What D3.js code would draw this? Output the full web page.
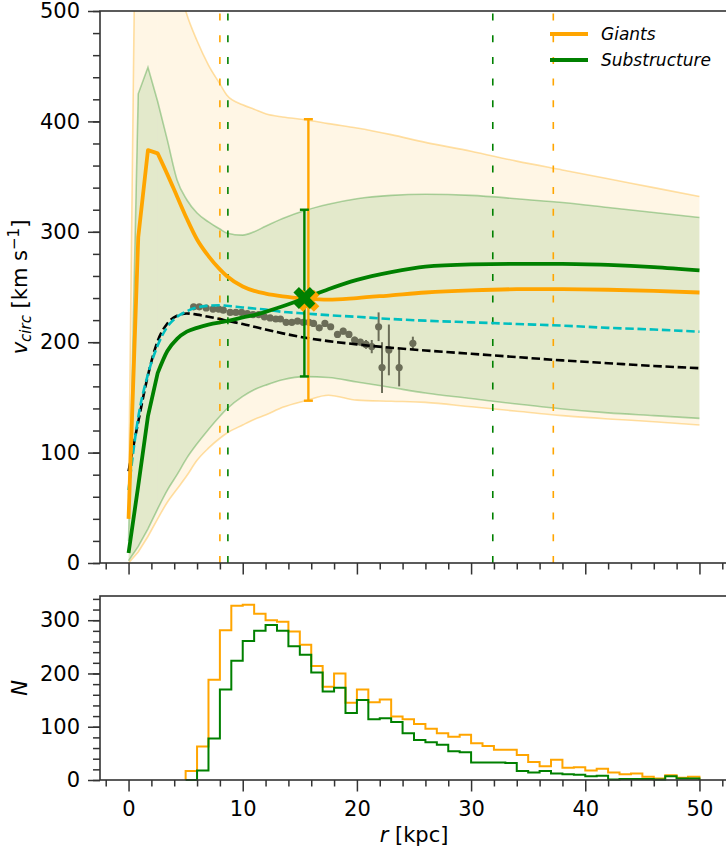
<!DOCTYPE html>
<html>
<head>
<meta charset="utf-8">
<script src="https://cdn.jsdelivr.net/npm/d3@7"></script>
<style>
  body { margin: 0; background: #fff; }
  svg text { font-family: "DejaVu Sans", sans-serif; }
</style>
</head>
<body>
<div id="chart"></div>
<script>
// radial grid (kpc) shared by the model curves
var radius = [0, 0.85, 1.7, 2.55, 3.4, 4.25, 5.1, 6, 7, 8, 8.6, 10, 11, 12, 13.5, 15.5, 17.5, 20, 23, 26, 30, 34, 38, 42, 46, 50];

var giantsUpper = [60, 820, 720, 640, 580, 530, 497, 473, 451, 434, 424, 415, 411, 407, 404, 401.5, 398, 394, 388, 381, 373, 364, 356, 348, 340, 332];
var giantsLower = [0, 10, 24, 40, 55, 67, 79, 93, 104, 113, 117.5, 125, 130, 134, 141, 147, 152, 147.5, 146.5, 145.5, 141.5, 137.5, 133.5, 130.5, 128, 125];
var giantsVc = [40, 295, 374, 371, 352, 332, 312, 293, 278, 266, 260, 250.5, 246.5, 244, 241.5, 239.5, 238.5, 240, 242.5, 245, 247, 248, 248, 247.5, 246.5, 245];

var subUpper = [20, 425, 449, 418, 383, 347, 329, 317, 309, 302.5, 299, 297, 300, 305, 312, 319.5, 325, 330, 333, 334, 333, 330, 326.5, 322, 317.5, 313];
var subLower = [2, 15, 31, 49, 66, 80, 95, 108, 121, 133, 139.5, 151, 157, 161, 166, 168.8, 168, 164, 159, 154, 149, 144, 139.5, 136, 133.5, 131];
var subVc = [9, 70, 133, 172, 192, 203, 209.5, 213, 216, 218, 219, 222.5, 224.5, 227.5, 232.5, 240, 248, 256.5, 263.5, 268.5, 270.5, 271, 271, 270, 268, 265];

var modelCyan = [66, 132, 171, 197, 214, 223, 228, 231.5, 233, 233.5, 233, 231.5, 230.5, 229.5, 227.5, 226, 224.5, 223, 221, 219.5, 218, 216.5, 215, 213, 211.5, 209.5];
var modelBlack = [83, 128, 170, 201, 217, 224, 226, 225, 223, 221, 219.5, 216.5, 214, 211.5, 208, 204, 201, 198, 195, 192.5, 189.5, 186.5, 183.5, 181, 178.5, 176.5];

// observed rotation curve
var obsR = [5.7, 6.2, 6.8, 7.4, 7.9, 8.3, 8.9, 9.4, 9.9, 10.4, 10.9, 11.4, 11.9, 12.4, 12.9, 13.3, 13.8, 14.3, 14.8, 15.3, 15.8, 16.2, 16.7, 17.2, 17.7, 18.3, 18.8, 19.3, 19.8, 20.3, 20.8, 21.3, 21.9, 22.2, 22.8, 23.7, 24.9];
var obsV = [232, 232, 231, 230, 230, 229, 227, 227, 227, 226, 225, 225, 223, 222, 221, 221, 218, 218, 219, 218, 218, 217, 213, 217, 214, 207, 210, 207, 202, 200, 198, 196, 214, 177, 193, 177, 199];
var obsErr = [2, 2, 2, 2, 2, 2, 2, 2, 2, 2, 2, 2, 2, 2, 2, 2, 2, 2, 2, 2, 2, 2, 2, 2, 2, 2, 3, 3, 3, 3, 4, 6, 13, 23, 23, 17, 6];

// single-radius estimates: [giants, substructure]
var estR = [15.75, 15.4];
var estV = [237.5, 240];
var estLo = [147, 169];
var estHi = [402, 320];

// radial ranges of the samples
var giantsRange = [8.0, 37.2];
var subRange = [8.7, 31.9];

// histograms, 1 kpc bins from 5 to 50
var binEdges = d3.range(5, 51, 1);
var giantsCounts = [17, 63, 188, 281, 327, 329, 312, 300, 297, 279, 254, 214, 175, 200, 145, 170, 146, 151, 119, 114, 105, 96, 88, 81, 85, 69, 64, 57, 57, 47, 34, 26, 38, 23, 24, 18, 21, 14, 11, 12, 6, 3, 9, 4, 6];
var subCounts = [0, 18, 78, 170, 224, 261, 280, 291, 280, 251, 235, 202, 166, 173, 126, 150, 114, 116, 109, 88, 75, 71, 66, 54, 52, 33, 33, 33, 32, 17, 14, 17, 12, 11, 10, 7, 8, 1, 2, 2, 2, 1, 7, 3, 3];

var xTicks = [0, 10, 20, 30, 40, 50];
var vTicks = [0, 100, 200, 300, 400, 500];
var nTicks = [0, 100, 200, 300];
var legendLabels = ['Giants', 'Substructure'];

var ORANGE = '#ffa500', GREEN = '#008000', SPINE = '#333';
var SPLIT = 3; // coarse inner grid is drawn straight, the rest smoothed

var svg = d3.select('#chart').append('svg')
    .attr('width', 726).attr('height', 854);

var x = d3.scaleLinear().domain([-2.5, 52.5]).range([100, 728]);
var yTop = d3.scaleLinear().domain([0, 500]).range([563, 11]);
var yBot = d3.scaleLinear().domain([0, d3.max(giantsCounts) * 1.05]).range([780, 596]);

function zip(vals) {
    return radius.map(function (r, i) { return [r, vals[i]]; });
}

function styleAxis(g) {
    g.select('.domain').remove();
    g.selectAll('line').attr('stroke', SPINE).attr('stroke-width', 1.5);
    g.selectAll('text').attr('font-size', 21).attr('fill', '#000');
}

function drawAxes(yScale, yMajor, yMinor, y0, y1, withXLabels) {
    var xMinor = d3.range(-2, 53, 2).filter(function (d) { return d % 10 !== 0; });
    svg.append('g').attr('transform', 'translate(0,' + y1 + ')')
        .call(d3.axisBottom(x).tickValues(xMinor).tickSize(6.5).tickFormat(''))
        .call(styleAxis);
    svg.append('g').attr('transform', 'translate(0,' + y1 + ')')
        .call(d3.axisBottom(x).tickValues(xTicks).tickSize(11.5).tickPadding(10)
            .tickFormat(withXLabels ? d3.format('d') : ''))
        .call(styleAxis);
    svg.append('g').attr('transform', 'translate(100,0)')
        .call(d3.axisLeft(yScale).tickValues(yMinor).tickSize(7).tickFormat(''))
        .call(styleAxis);
    svg.append('g').attr('transform', 'translate(100,0)')
        .call(d3.axisLeft(yScale).tickValues(yMajor).tickSize(12).tickPadding(8).tickFormat(d3.format('d')))
        .call(styleAxis);
    svg.append('rect')
        .attr('x', 100).attr('y', y0)
        .attr('width', 628).attr('height', y1 - y0)
        .attr('fill', 'none').attr('stroke', SPINE).attr('stroke-width', 1.6);
}

// ---------- upper panel ----------
svg.append('clipPath').attr('id', 'clipTop')
    .append('rect').attr('x', 100).attr('y', 11).attr('width', 628).attr('height', 552);
var panel = svg.append('g').attr('clip-path', 'url(#clipTop)');

function areaGen(curve) {
    return d3.area().curve(curve)
        .x(function (d) { return x(d[0]); })
        .y0(function (d) { return yTop(d[1]); })
        .y1(function (d) { return yTop(d[2]); });
}
function lineGen(curve) {
    return d3.line().curve(curve)
        .x(function (d) { return x(d[0]); })
        .y(function (d) { return yTop(d[1]); });
}
var areaLin = areaGen(d3.curveLinear), areaMono = areaGen(d3.curveMonotoneX);
var lineLin = lineGen(d3.curveLinear), lineMono = lineGen(d3.curveMonotoneX);
var line = lineMono;

// straight over the inner grid points, smooth outside; one path
function splitLine(d) {
    var a = lineLin(d.slice(0, SPLIT + 1));
    var b = lineMono(d.slice(SPLIT));
    return a + 'L' + b.slice(1);
}

function band(lower, upper, color, fillOp, edgeOp) {
    var d = radius.map(function (r, i) { return [r, lower[i], upper[i]]; });
    var g = panel.append('g').attr('fill', color).attr('fill-opacity', fillOp);
    g.append('path').attr('d', areaLin(d.slice(0, SPLIT + 1)));
    g.append('path').attr('d', areaMono(d.slice(SPLIT)));
    [lower, upper].forEach(function (vals) {
        panel.append('path').attr('d', splitLine(zip(vals)))
            .attr('fill', 'none').attr('stroke', color)
            .attr('stroke-opacity', edgeOp).attr('stroke-width', 1.6);
    });
}
band(giantsLower, giantsUpper, ORANGE, 0.1, 0.35);
band(subLower, subUpper, GREEN, 0.11, 0.3);

// sample ranges
[[giantsRange, ORANGE], [subRange, GREEN]].forEach(function (p) {
    panel.selectAll(null).data(p[0]).enter().append('line')
        .attr('x1', function (d) { return x(d); }).attr('x2', function (d) { return x(d); })
        .attr('y1', yTop(0)).attr('y2', yTop(500))
        .attr('stroke', p[1]).attr('stroke-width', 1.6)
        .attr('stroke-dasharray', '7,14.7');
});

// observed points
var obs = panel.append('g');
obsR.forEach(function (r, i) {
    obs.append('line')
        .attr('x1', x(r)).attr('x2', x(r))
        .attr('y1', yTop(obsV[i] - obsErr[i])).attr('y2', yTop(obsV[i] + obsErr[i]))
        .attr('stroke', '#6b6d58').attr('stroke-width', 2);
});
obs.selectAll('circle').data(obsR).enter().append('circle')
    .attr('cx', function (d) { return x(d); })
    .attr('cy', function (d, i) { return yTop(obsV[i]); })
    .attr('r', 3.6)
    .attr('fill', '#6b6d58');

// model curves
panel.append('path').datum(zip(modelBlack)).attr('d', line)
    .attr('fill', 'none').attr('stroke', '#000').attr('stroke-width', 2.6)
    .attr('stroke-dasharray', '8.5,3.7');
panel.append('path').datum(zip(modelCyan)).attr('d', line)
    .attr('fill', 'none').attr('stroke', '#00bfbf').attr('stroke-width', 2.6)
    .attr('stroke-dasharray', '8.5,3.7');
panel.append('path').attr('d', splitLine(zip(giantsVc)))
    .attr('fill', 'none').attr('stroke', ORANGE).attr('stroke-width', 3.8)
    .attr('stroke-linejoin', 'round');
panel.append('path').attr('d', splitLine(zip(subVc)))
    .attr('fill', 'none').attr('stroke', GREEN).attr('stroke-width', 3.8)
    .attr('stroke-linejoin', 'round');

// estimates with error bars
var estColors = [ORANGE, GREEN];
estR.forEach(function (r, i) {
    var g = panel.append('g').attr('stroke', estColors[i]).attr('stroke-width', 2.4);
    g.append('line').attr('x1', x(r)).attr('x2', x(r))
        .attr('y1', yTop(estLo[i])).attr('y2', yTop(estHi[i]));
    [estLo[i], estHi[i]].forEach(function (v) {
        g.append('line').attr('x1', x(r) - 4.5).attr('x2', x(r) + 4.5)
            .attr('y1', yTop(v)).attr('y2', yTop(v));
    });
});
var xMark = d3.symbol().type(d3.symbolCross).size(300);
estR.forEach(function (r, i) {
    panel.append('path').attr('d', xMark)
        .attr('transform', 'translate(' + x(r) + ',' + yTop(estV[i]) + ') rotate(45)')
        .attr('fill', estColors[i]);
});

drawAxes(yTop, vTicks, d3.range(0, 501, 20), 11, 563, false);

// legend
var leg = svg.append('g');
legendLabels.forEach(function (lab, i) {
    var ly = 34 + i * 26;
    leg.append('line').attr('x1', 550).attr('x2', 588).attr('y1', ly).attr('y2', ly)
        .attr('stroke', estColors[i]).attr('stroke-width', 3.8);
    leg.append('text').attr('x', 601).attr('y', ly + 6)
        .attr('font-size', 17).attr('font-style', 'italic').text(lab);
});

// y label, upper panel
var yl = svg.append('text')
    .attr('transform', 'translate(27,287) rotate(-90)')
    .attr('text-anchor', 'middle').attr('font-size', 21);
yl.append('tspan').attr('font-style', 'italic').text('v');
yl.append('tspan').attr('font-style', 'italic').attr('font-size', 15).attr('dy', 4).text('circ');
yl.append('tspan').attr('dy', -4).text(' [km s');
yl.append('tspan').attr('font-size', 15).attr('dy', -8).text('\u22121');
yl.append('tspan').attr('dy', 8).text(']');

// ---------- lower panel ----------
function stepPoints(counts) {
    var pts = [[binEdges[0], 0]];
    counts.forEach(function (c, i) {
        pts.push([binEdges[i], c]);
        pts.push([binEdges[i + 1], c]);
    });
    pts.push([binEdges[binEdges.length - 1], 0]);
    return pts;
}
var histLine = d3.line()
    .x(function (d) { return x(d[0]); })
    .y(function (d) { return yBot(d[1]); });
svg.append('path').datum(stepPoints(giantsCounts)).attr('d', histLine)
    .attr('fill', 'none').attr('stroke', ORANGE).attr('stroke-width', 2);
svg.append('path').datum(stepPoints(subCounts)).attr('d', histLine)
    .attr('fill', 'none').attr('stroke', GREEN).attr('stroke-width', 2);

drawAxes(yBot, nTicks, d3.range(0, 341, 20), 596, 780, true);

svg.append('text')
    .attr('transform', 'translate(27,688) rotate(-90)')
    .attr('text-anchor', 'middle').attr('font-size', 21)
    .attr('font-style', 'italic').text('N');

var xl = svg.append('text').attr('x', 414).attr('y', 842)
    .attr('text-anchor', 'middle').attr('font-size', 21);
xl.append('tspan').attr('font-style', 'italic').text('r');
xl.append('tspan').text(' [kpc]');
</script>
</body>
</html>
